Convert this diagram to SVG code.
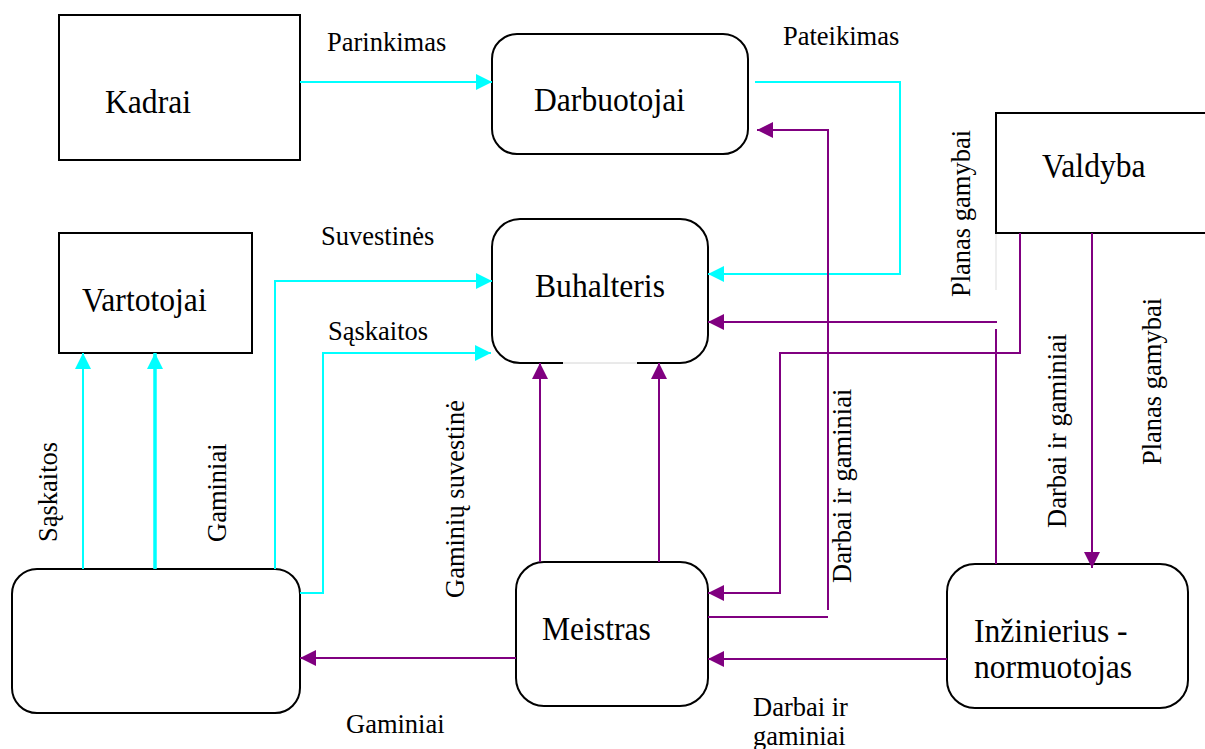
<svg xmlns="http://www.w3.org/2000/svg" width="1205" height="749" viewBox="0 0 1205 749">
  <style>
    .box { fill: #ffffff; stroke: #000000; stroke-width: 2; }
    .node { font-family: "Liberation Serif", "Times New Roman", serif; font-size: 34px; fill: #000000; }
    .lbl { font-family: "Liberation Serif", "Times New Roman", serif; font-size: 26.5px; fill: #000000; }
    .cy { fill: none; stroke: #00ffff; stroke-width: 2; }
    .cy-thick { fill: none; stroke: #00ffff; stroke-width: 3.5; }
    .pu { fill: none; stroke: #800080; stroke-width: 2; }
  </style>
  <defs>
    <marker id="ahCyan" markerUnits="userSpaceOnUse" markerWidth="16" markerHeight="16" refX="16" refY="8" orient="auto">
      <path d="M0,0 L16,8 L0,16 z" fill="#00ffff"/>
    </marker>
    <marker id="ahPurple" markerUnits="userSpaceOnUse" markerWidth="16" markerHeight="16" refX="16" refY="8" orient="auto">
      <path d="M0,0 L16,8 L0,16 z" fill="#800080"/>
    </marker>
  </defs>
  <rect width="1205" height="749" fill="#ffffff"/>

  <!-- node captions are set slightly condensed: translate(x,y) scale(0.93,1) -->
  <g id="kadrai">
    <rect class="box" x="59" y="15" width="241" height="145"/>
    <text class="node" transform="translate(105,113) scale(0.93,1)">Kadrai</text>
  </g>
  <g id="darbuotojai">
    <rect class="box" x="492" y="34" width="256" height="120" rx="25"/>
    <text class="node" transform="translate(534,111) scale(0.93,1)">Darbuotojai</text>
  </g>
  <g id="vartotojai">
    <rect class="box" x="59" y="233" width="193" height="120"/>
    <text class="node" transform="translate(82,311) scale(0.93,1)">Vartotojai</text>
  </g>
  <g id="buhalteris">
    <rect class="box" x="492" y="219" width="216" height="144" rx="28"/>
    <line x1="563" y1="363" x2="637" y2="363" stroke="#ffffff" stroke-width="3.5"/>
    <line x1="563" y1="363" x2="637" y2="363" stroke="#d4d4d4" stroke-width="1"/>
    <text class="node" transform="translate(535,297) scale(0.93,1)">Buhalteris</text>
  </g>
  <g id="valdyba">
    <rect class="box" x="996" y="113" width="220" height="120"/>
    <line x1="996" y1="234" x2="996" y2="290" stroke="#dddddd" stroke-width="1"/>
    <text class="node" transform="translate(1042,177) scale(0.93,1)">Valdyba</text>
  </g>
  <g id="tiekimas">
    <rect class="box" x="12" y="569" width="288" height="144" rx="25"/>
  </g>
  <g id="meistras">
    <rect class="box" x="516" y="562" width="192" height="144" rx="28"/>
    <text class="node" transform="translate(542,640) scale(0.93,1)">Meistras</text>
  </g>
  <g id="inzinierius">
    <rect class="box" x="947" y="564" width="241" height="144" rx="28"/>
    <text class="node" transform="translate(974,642) scale(0.93,1)">Inžinierius -</text>
    <text class="node" transform="translate(974,678) scale(0.93,1)">normuotojas</text>
  </g>

  <g id="connectors">
    <!-- cyan flows -->
    <path class="cy" d="M300,82 H492" marker-end="url(#ahCyan)"/>
    <path class="cy" d="M755,82 H900 V274 H708" marker-end="url(#ahCyan)"/>
    <path class="cy" d="M275,569 V281 H492" marker-end="url(#ahCyan)"/>
    <path class="cy" d="M300,593 H323 V353 H491" marker-end="url(#ahCyan)"/>
    <path class="cy" d="M83,569 V353" marker-end="url(#ahCyan)"/>
    <path class="cy-thick" d="M155,569 V353" marker-end="url(#ahCyan)"/>
    <!-- purple flows -->
    <path class="pu" d="M828,610 V130 H757" marker-end="url(#ahPurple)"/>
    <path class="pu" d="M708,617 H828"/>
    <path class="pu" d="M1020,233 V353 H780 V593 H708" marker-end="url(#ahPurple)"/>
    <path class="pu" d="M996,564 V329"/>
    <path class="pu" d="M997,322 H708" marker-end="url(#ahPurple)"/>
    <path class="pu" d="M1092,233 V568" marker-end="url(#ahPurple)"/>
    <path class="pu" d="M947,659 H708" marker-end="url(#ahPurple)"/>
    <path class="pu" d="M516,658 H300" marker-end="url(#ahPurple)"/>
    <path class="pu" d="M540,562 V363" marker-end="url(#ahPurple)"/>
    <path class="pu" d="M659,562 V363" marker-end="url(#ahPurple)"/>
  </g>

  <g id="labels">
    <text class="lbl" x="327" y="51">Parinkimas</text>
    <text class="lbl" x="783" y="45">Pateikimas</text>
    <text class="lbl" x="321" y="245">Suvestinės</text>
    <text class="lbl" x="328" y="340">Sąskaitos</text>
    <text class="lbl" x="346" y="733">Gaminiai</text>
    <text class="lbl" x="753" y="716">Darbai ir</text>
    <text class="lbl" x="753" y="745">gaminiai</text>
    <text class="lbl" transform="translate(57,542) rotate(-90)">Sąskaitos</text>
    <text class="lbl" transform="translate(226,542) rotate(-90)">Gaminiai</text>
    <text class="lbl" transform="translate(464,598) rotate(-90)">Gaminių suvestinė</text>
    <text class="lbl" transform="translate(851,583) rotate(-90)">Darbai ir gaminiai</text>
    <text class="lbl" transform="translate(970,297) rotate(-90)">Planas gamybai</text>
    <text class="lbl" transform="translate(1066,528) rotate(-90)">Darbai ir gaminiai</text>
    <text class="lbl" transform="translate(1161,465) rotate(-90)">Planas gamybai</text>
  </g>
</svg>
